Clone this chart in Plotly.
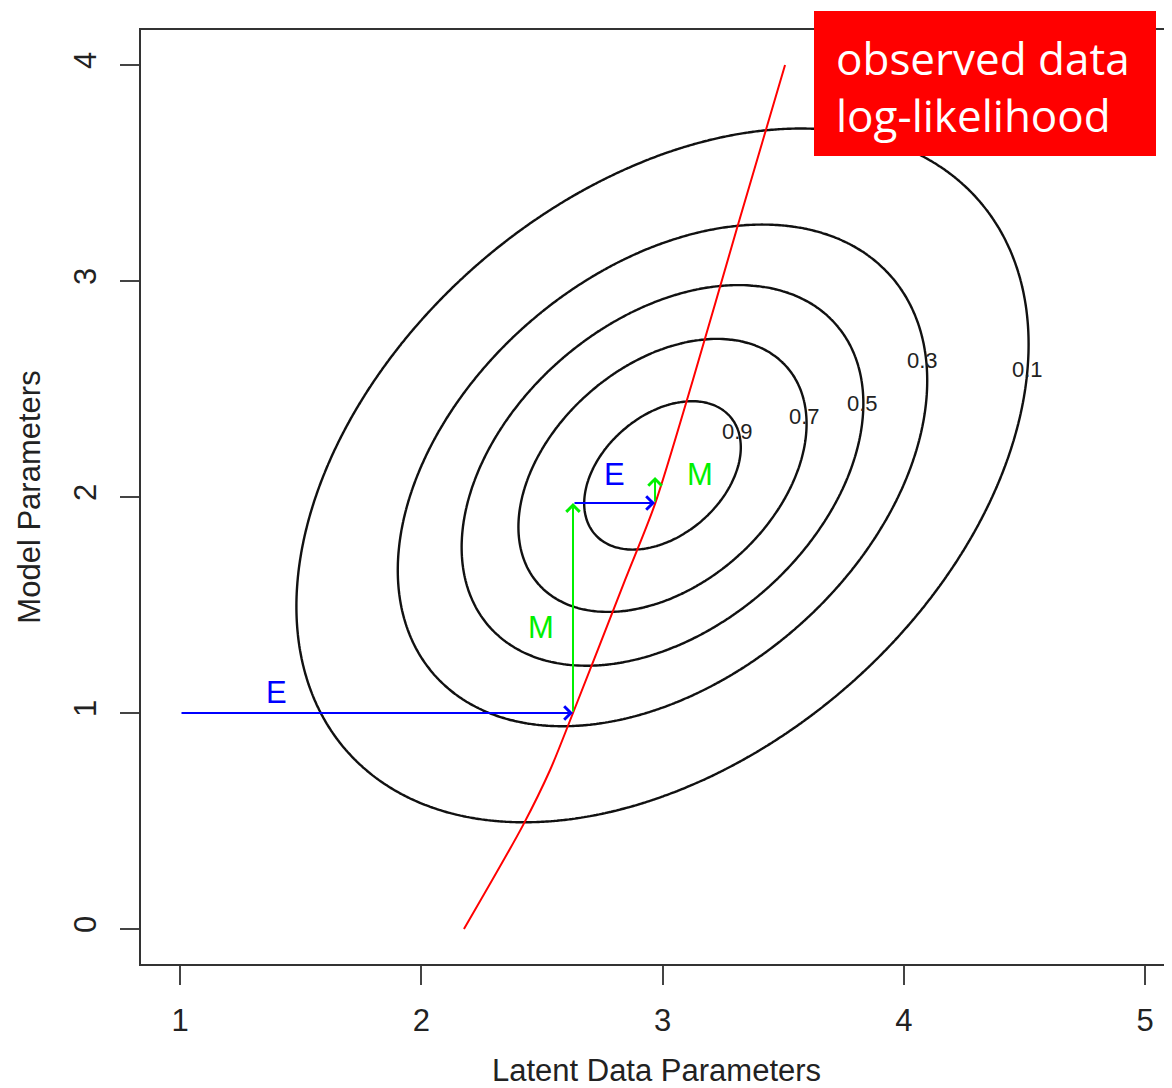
import numpy as np
import plotly.graph_objects as go

# ---------------- data ----------------
# bivariate normal surface (peak normalised to 1) drawn as contours
MU = [3.0, 2.1]
SIGMA = [[0.50, 0.20],
         [0.20, 0.56]]
LEVELS = [0.1, 0.3, 0.5, 0.7, 0.9]
LEVEL_LABELS = ["0.1", "0.3", "0.5", "0.7", "0.9"]
LABEL_X = [4.515, 4.076, 3.831, 3.587, 3.309]
LABEL_Y = [2.588, 2.634, 2.431, 2.375, 2.301]

# observed data log-likelihood ridge (red curve)
RED_X = [2.177, 2.422, 2.534, 2.629, 2.845, 2.969, 3.126, 3.309, 3.508]
RED_Y = [0.000, 0.481, 0.736, 1.000, 1.616, 1.968, 2.542, 3.245, 4.000]

# EM steps: (start x, start y, end x, end y, kind)
STEP_X0 = [1.000, 2.629, 2.629, 2.969]
STEP_Y0 = [1.000, 1.000, 1.972, 1.972]
STEP_X1 = [2.629, 2.629, 2.969, 2.969]
STEP_Y1 = [1.000, 1.972, 1.972, 2.093]
STEP_KIND = ["E", "M", "E", "M"]
STEP_LABEL_X = [1.402, 2.496, 2.803, 3.155]
STEP_LABEL_Y = [1.097, 1.398, 2.102, 2.102]

X_TICKS = [1, 2, 3, 4, 5]
Y_TICKS = [0, 1, 2, 3, 4]
X_TITLE = "Latent Data Parameters"
Y_TITLE = "Model Parameters"
BOX_TEXT = "observed data<br>log-likelihood"

COLORS = {"E": "#0000FF", "M": "#00F000"}
FONT = "Liberation Sans, Arial, Helvetica, sans-serif"

# ---------------- build the figure ----------------
gx = np.linspace(0.5, 5.5, 401)
gy = np.linspace(-0.5, 4.5, 401)
XX, YY = np.meshgrid(gx, gy)
S = np.array(SIGMA)
Si = np.linalg.inv(S)
dx = XX - MU[0]
dy = YY - MU[1]
Q = Si[0, 0] * dx * dx + 2 * Si[0, 1] * dx * dy + Si[1, 1] * dy * dy
Z = np.exp(-0.5 * Q)

fig = go.Figure()
fig.add_trace(go.Contour(
    x=gx, y=gy, z=Z,
    contours=dict(start=LEVELS[0], end=LEVELS[-1], size=LEVELS[1] - LEVELS[0],
                  coloring="none", showlabels=False),
    line=dict(color="#111111", width=2.4),
    showscale=False, hoverinfo="skip",
))

fig.add_trace(go.Scatter(
    x=RED_X, y=RED_Y, mode="lines",
    line=dict(color="#FF0000", width=2, shape="spline", smoothing=0.8),
    hoverinfo="skip", showlegend=False,
))

annotations = []
for x0, y0, x1, y1, k in zip(STEP_X0, STEP_Y0, STEP_X1, STEP_Y1, STEP_KIND):
    annotations.append(dict(
        x=x1, y=y1, ax=x0, ay=y0, xref="x", yref="y", axref="x", ayref="y",
        text="", showarrow=True, arrowhead=4, arrowsize=1.3, arrowwidth=2,
        arrowcolor=COLORS[k], standoff=0,
    ))
for tx, ty, k in zip(STEP_LABEL_X, STEP_LABEL_Y, STEP_KIND):
    annotations.append(dict(
        x=tx, y=ty, xref="x", yref="y", text=k, showarrow=False,
        font=dict(family=FONT, size=31, color=COLORS[k]),
        xanchor="center", yanchor="middle",
    ))
for tx, ty, t in zip(LABEL_X, LABEL_Y, LEVEL_LABELS):
    annotations.append(dict(
        x=tx, y=ty, xref="x", yref="y", text=t, showarrow=False,
        font=dict(family=FONT, size=22, color="#222222"),
        xanchor="center", yanchor="middle",
    ))

# the page places the figure 8 px from the window's top-left corner
OFF = 8
W, H = 1172 - OFF, 1088 - OFF
ML, MR, MT, MB = 141 - OFF, 0, 30 - OFF, 1088 - 964
PW, PH = W - ML - MR, H - MT - MB


def px_to_paper_x(px):
    return (px - OFF - ML) / PW


def px_to_paper_y(py):
    return (H - MB - (py - OFF)) / PH


annotations.append(dict(
    x=px_to_paper_x(834), y=px_to_paper_y(86), xref="paper", yref="paper",
    text=BOX_TEXT, showarrow=False, align="left",
    xanchor="left", yanchor="middle",
    font=dict(family="Open Sans, Lato, sans-serif", size=44, color="white"),
))

shapes = [dict(
    type="rect", xref="paper", yref="paper",
    x0=px_to_paper_x(814), x1=px_to_paper_x(1156),
    y0=px_to_paper_y(156), y1=px_to_paper_y(11),
    fillcolor="#FF0000", line=dict(width=0), layer="above",
)]

px_per_x = 241.25
px_per_y = 216.0
x_lo = 1 - (180 - 141) / px_per_x
x_hi = x_lo + PW / px_per_x
y_lo = -(964 - 929) / px_per_y
y_hi = y_lo + PH / px_per_y

axis_common = dict(
    showgrid=False, zeroline=False, showline=True, linecolor="#333333", linewidth=2,
    ticks="outside", ticklen=19, tickwidth=2, tickcolor="#444444",
    tickfont=dict(family=FONT, size=31, color="#222222"),
)

fig.update_layout(
    width=W, height=H,
    margin=dict(l=ML, r=MR, t=MT, b=MB, pad=0),
    paper_bgcolor="white", plot_bgcolor="white",
    showlegend=False,
    font=dict(family=FONT, color="#222222"),
    xaxis=dict(range=[x_lo, x_hi], tickvals=X_TICKS, mirror=True,
               ticklabelstandoff=9,
               title=dict(text=X_TITLE, font=dict(family=FONT, size=31, color="#222222"), standoff=23),
               **axis_common),
    yaxis=dict(range=[y_lo, y_hi], tickvals=Y_TICKS, tickangle=-90,
               ticklabelstandoff=12,
               title=dict(text=Y_TITLE, font=dict(family=FONT, size=31, color="#222222"), standoff=18),
               **axis_common),
    annotations=annotations,
    shapes=shapes,
)

fig.write_html("out.html")
